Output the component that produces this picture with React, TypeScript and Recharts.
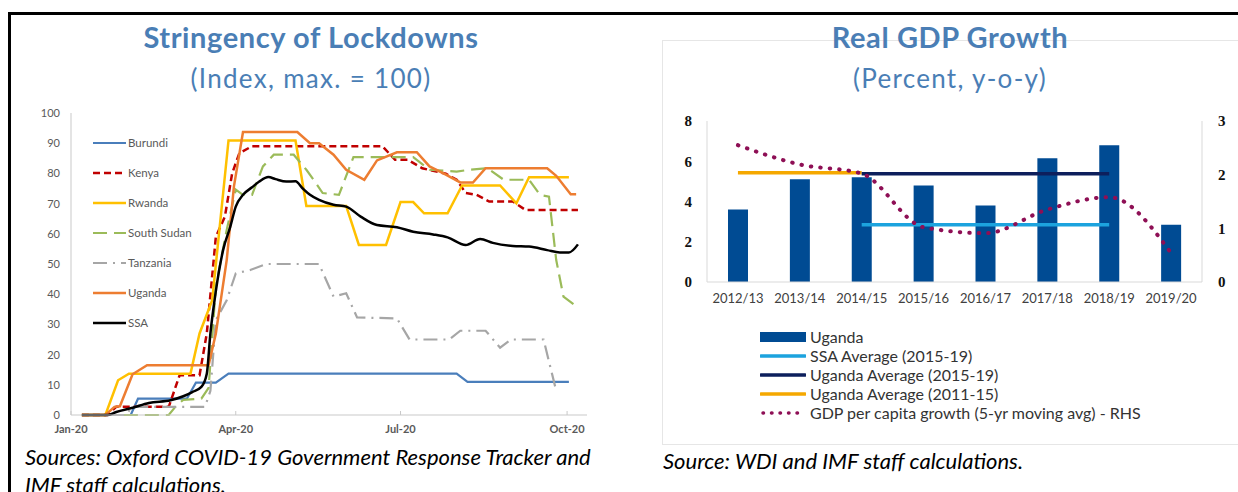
import { LineChart, Line, XAxis, YAxis, ComposedChart, Bar } from 'recharts'

type Pt = [number, number]

// ---------- Stringency of lockdowns: [day of 2020 (0 = 1 Jan), index] ----------
const burundi: Pt[] = [[6, 0], [33, 0], [37, 5.4], [64, 5.4], [69, 10.7], [80, 10.7], [87, 13.7], [213, 13.7], [219, 11], [275, 11]]
const kenya: Pt[] = [[6, 0], [20, 0], [25, 2.7], [54, 2.7], [60, 13.2], [71, 13.2], [75, 27], [80, 59], [85, 65.7], [89, 80], [93, 86.7], [100, 89], [172, 89], [179, 84.5], [186, 84.5], [194, 81.7], [207, 79.9], [213, 77.9], [218, 73.5], [224, 72.9], [231, 70.7], [244, 70.7], [251, 67.9], [280, 67.9]]
const rwanda: Pt[] = [[6, 0], [19, 0], [26, 11.5], [32, 13.7], [66, 13.7], [71, 27], [78, 38], [87, 90.9], [124, 90.9], [130, 69.2], [152, 69.2], [159, 56.3], [174, 56.3], [182, 70.5], [189, 70.5], [195, 66.8], [208, 66.8], [216, 76], [237, 76], [246, 70.1], [253, 78.7], [275, 78.7]]
const southSudan: Pt[] = [[6, 0], [54, 0], [58, 3], [62, 5], [72, 5.4], [76, 9], [80, 42.5], [86, 61.3], [91, 74.6], [95, 72.9], [100, 72.9], [106, 82.3], [112, 86.2], [123, 86.2], [130, 81.2], [134, 77.9], [139, 73.5], [148, 72.9], [156, 85.4], [189, 85.4], [198, 81.2], [213, 80.6], [220, 81.2], [230, 81.7], [239, 77.9], [253, 77.9], [259, 72.9], [264, 72.3], [268, 51.3], [272, 39.2], [280, 35.6]]
const tanzania: Pt[] = [[6, 0], [30, 0], [34, 2.7], [74, 2.7], [77, 8], [80, 31.4], [86, 38], [91, 46.9], [99, 48], [108, 50], [137, 50], [145, 39.2], [152, 40.3], [158, 32.3], [180, 32], [187, 25], [209, 25], [215, 27.9], [229, 27.9], [237, 22.3], [243, 25], [261, 25], [268, 8]]
const uganda: Pt[] = [[6, 0], [19, 0], [24, 2.7], [27, 2.9], [34, 13.5], [42, 16.5], [76, 16.5], [80, 27], [86, 51.3], [90, 75.7], [95, 93.7], [125, 93.7], [132, 90], [137, 90], [145, 86.2], [152, 81.2], [162, 77.9], [169, 84.3], [180, 87], [191, 87], [198, 82.3], [206, 79.9], [215, 77], [222, 77], [229, 81.7], [263, 81.7], [268, 79.2], [276, 73.1], [279, 73.1]]
const ssa: Pt[] = [[6, 0], [20, 0], [25, 1], [34, 2.4], [43, 4], [55, 4.9], [62, 6.2], [67, 7.6], [72, 9.3], [75, 13.7], [77, 27], [80, 41], [84, 54.6], [88, 62.4], [91, 69], [95, 72.9], [100, 75.4], [104, 77.3], [109, 78.8], [113, 78.1], [119, 77.3], [124, 77.4], [128, 75], [132, 72.9], [137, 71.2], [145, 69.6], [152, 69], [160, 65.7], [169, 62.9], [180, 62.2], [189, 60.7], [200, 59.8], [208, 58.8], [218, 56.3], [226, 58.3], [233, 57], [244, 56], [253, 55.8], [263, 54.6], [270, 53.8], [275, 53.8], [280, 56.5]]

const monthTickDays = [0, 91, 182, 274]
const monthTickLabels = ['Jan-20', 'Apr-20', 'Jul-20', 'Oct-20']
const indexTicks = [0, 10, 20, 30, 40, 50, 60, 70, 80, 90, 100]

// ---------- Real GDP growth ----------
const fiscalYears = ['2012/13', '2013/14', '2014/15', '2015/16', '2016/17', '2017/18', '2018/19', '2019/20']
const ugandaGrowth = [3.6, 5.1, 5.2, 4.8, 3.8, 6.15, 6.8, 2.85]
const ssaAvg1519 = [null, null, 2.85, 2.85, 2.85, 2.85, 2.85, null]
const ugandaAvg1519 = [null, null, 5.38, 5.38, 5.38, 5.38, 5.38, null]
const ugandaAvg1115 = [5.43, 5.43, 5.43, null, null, null, null, null]
const perCapitaGrowth = [2.55, 2.19, 2.02, 1.02, 0.91, 1.35, 1.58, 0.54]

const stringencySeries = [
  { name: 'Burundi', pts: burundi, color: '#4A7EBB', width: 2.2, dash: undefined as string | undefined },
  { name: 'Kenya', pts: kenya, color: '#C00000', width: 2.5, dash: '7 4' },
  { name: 'Rwanda', pts: rwanda, color: '#FFC000', width: 2.5, dash: undefined },
  { name: 'South Sudan', pts: southSudan, color: '#9BBB59', width: 2.2, dash: '14 7' },
  { name: 'Tanzania', pts: tanzania, color: '#A6A6A6', width: 2.2, dash: '14 6 2 6' },
  { name: 'Uganda', pts: uganda, color: '#ED7D31', width: 2.5, dash: undefined },
  { name: 'SSA', pts: ssa, color: '#000000', width: 2.5, dash: undefined },
]

const gdpData = fiscalYears.map((year, i) => ({
  year,
  uganda: ugandaGrowth[i],
  ssaAvg: ssaAvg1519[i],
  ugAvg: ugandaAvg1519[i],
  ugAvgOld: ugandaAvg1115[i],
  perCapita: perCapitaGrowth[i],
}))

const TITLE_BLUE = '#4A7EB5'
const AXIS_GREY = '#c9c9c9'

const StringencyChart = () => (
  <LineChart width={620} height={445} margin={{ top: 113, right: 33, bottom: 0, left: 0 }}>
    <XAxis xAxisId="top" orientation="top" type="number" domain={[0, 285]} height={0}
      tick={false} tickLine={false} axisLine={{ stroke: AXIS_GREY }} />
    <XAxis dataKey="d" type="number" domain={[0, 285]} allowDataOverflow ticks={monthTickDays} interval={0}
      tickFormatter={(d: number) => monthTickLabels[monthTickDays.indexOf(d)] ?? ''}
      height={30} tickSize={-4} tickMargin={14}
      tickLine={{ stroke: AXIS_GREY }} axisLine={{ stroke: AXIS_GREY }}
      tick={{ fontSize: 11, fontWeight: 700, fill: '#595959', fontFamily: 'Lato' }} />
    <YAxis domain={[0, 100]} ticks={indexTicks} interval={0} width={71} tickLine={false} tickSize={4} tickMargin={7}
      axisLine={{ stroke: AXIS_GREY }} tick={{ fontSize: 11, fill: '#595959', fontFamily: 'Lato' }} />
    <YAxis yAxisId="r" orientation="right" domain={[0, 100]} width={0} tick={false} tickLine={false}
      axisLine={{ stroke: AXIS_GREY }} />
    {stringencySeries.map(s => (
      <Line key={s.name} name={s.name} data={s.pts.map(([d, v]) => ({ d, v }))} dataKey="v"
        type={s.name === 'SSA' ? 'monotone' : 'linear'} stroke={s.color} strokeWidth={s.width}
        strokeDasharray={s.dash} dot={false} isAnimationActive={false} />
    ))}
  </LineChart>
)

const StringencyLegend = () => (
  <div style={{ position: 'absolute', left: 93, top: 128 }}>
    {stringencySeries.map(s => (
      <div key={s.name} style={{ display: 'flex', alignItems: 'center', height: 30 }}>
        <svg width={33} height={16} style={{ display: 'block' }}>
          <line x1={0} x2={33} y1={8} y2={8} stroke={s.color} strokeWidth={s.width} strokeDasharray={s.dash} />
        </svg>
        <span style={{ marginLeft: 2, fontFamily: 'Lato', fontSize: 11.5, color: '#595959', lineHeight: '16px' }}>{s.name}</span>
      </div>
    ))}
  </div>
)

const GdpChart = () => (
  <ComposedChart width={618} height={320} data={gdpData} margin={{ top: 121, right: 0, bottom: 0, left: 47 }}>
    <XAxis xAxisId="top" orientation="top" dataKey="year" height={0} tick={false} tickLine={false}
      axisLine={{ stroke: '#d9d9d9' }} />
    <XAxis dataKey="year" height={38} interval={0} tickLine={false} tickSize={6} tickMargin={6}
      axisLine={{ stroke: '#d9d9d9' }} tick={{ fontSize: 13, fill: '#404040', fontFamily: 'Lato' }} />
    <YAxis yAxisId="left" domain={[0, 8]} ticks={[0, 2, 4, 6, 8]} width={40} tickLine={false} tickSize={6} tickMargin={9}
      axisLine={{ stroke: '#d9d9d9' }}
      tick={{ fontSize: 15, fontWeight: 700, fill: '#111', fontFamily: 'Liberation Serif' }} />
    <YAxis yAxisId="right" orientation="right" domain={[0, 3]} ticks={[0, 1, 2, 3]} width={36} tickLine={false}
      tickSize={6} tickMargin={10} axisLine={{ stroke: '#d9d9d9' }}
      tick={{ fontSize: 15, fontWeight: 700, fill: '#111', fontFamily: 'Liberation Serif' }} />
    <Bar yAxisId="left" dataKey="uganda" name="Uganda" fill="#004B93" barSize={20} isAnimationActive={false} />
    <Line yAxisId="left" dataKey="ugAvgOld" name="Uganda Average (2011-15)" stroke="#F5A800" strokeWidth={3.5}
      dot={false} isAnimationActive={false} />
    <Line yAxisId="left" dataKey="ugAvg" name="Uganda Average (2015-19)" stroke="#0D1F5C" strokeWidth={3.5}
      dot={false} isAnimationActive={false} />
    <Line yAxisId="left" dataKey="ssaAvg" name="SSA Average (2015-19)" stroke="#1CA3DE" strokeWidth={3.5}
      dot={false} isAnimationActive={false} />
    <Line yAxisId="right" dataKey="perCapita" name="GDP per capita growth (5-yr moving avg) - RHS" type="monotone"
      stroke="#8E0F55" strokeWidth={4} strokeDasharray="0.5 9" strokeLinecap="round"
      dot={false} isAnimationActive={false} />
  </ComposedChart>
)

const gdpLegendItems = [
  { label: 'Uganda', color: '#004B93', kind: 'bar' },
  { label: 'SSA Average (2015-19)', color: '#1CA3DE', kind: 'line' },
  { label: 'Uganda Average (2015-19)', color: '#0D1F5C', kind: 'line' },
  { label: 'Uganda Average (2011-15)', color: '#F5A800', kind: 'line' },
  { label: 'GDP per capita growth (5-yr moving avg) - RHS', color: '#8E0F55', kind: 'dots' },
]

const GdpLegend = () => (
  <div style={{ position: 'absolute', left: 760, top: 327 }}>
    {gdpLegendItems.map(it => (
      <div key={it.label} style={{ display: 'flex', alignItems: 'center', height: 19 }}>
        <svg width={46} height={12} style={{ display: 'block' }}>
          {it.kind === 'bar' && <rect x={0} y={1} width={46} height={10} fill={it.color} />}
          {it.kind === 'line' && <line x1={1} x2={45} y1={6} y2={6} stroke={it.color} strokeWidth={3.5} strokeLinecap="round" />}
          {it.kind === 'dots' && <line x1={3} x2={44} y1={6} y2={6} stroke={it.color} strokeWidth={3.5}
            strokeDasharray="0.5 8" strokeLinecap="round" />}
        </svg>
        <span style={{ marginLeft: 4, fontFamily: 'Lato', fontSize: 16, color: '#333', lineHeight: '19px' }}>{it.label}</span>
      </div>
    ))}
  </div>
)

const titleStyle = { position: 'absolute' as const, top: 19, textAlign: 'center' as const, fontFamily: 'Lato', fontWeight: 700, fontSize: 29, letterSpacing: 0.6, lineHeight: '36px', color: TITLE_BLUE }
const subtitleStyle = { position: 'absolute' as const, top: 62, textAlign: 'center' as const, fontFamily: 'Lato', fontSize: 26, letterSpacing: 1.3, lineHeight: '32px', color: TITLE_BLUE }
const sourceStyle = { position: 'absolute' as const, fontFamily: 'Lato', fontStyle: 'italic' as const, fontSize: 22, lineHeight: '28px', color: '#000', whiteSpace: 'nowrap' as const }

export default function App() {
  return (
    <div style={{ position: 'absolute', left: 0, top: 0, width: 1238, height: 492, overflow: 'hidden', background: '#fff' }}>
      {/* frame */}
      <div style={{ position: 'absolute', left: 8, top: 12, width: 1230, height: 3, background: '#000' }} />
      <div style={{ position: 'absolute', left: 8, top: 12, width: 3, height: 480, background: '#000' }} />
      <div style={{ position: 'absolute', left: 662, top: 40, width: 575, height: 403, border: '1px solid #e6e6e6', borderRight: 'none' }} />

      {/* left panel */}
      <div style={{ position: 'absolute', left: 0, top: 0 }}><StringencyChart /></div>
      <StringencyLegend />
      <div style={{ ...titleStyle, left: 0, width: 622 }}>Stringency of Lockdowns</div>
      <div style={{ ...subtitleStyle, left: 0, width: 622 }}>(Index, max. = 100)</div>
      <div style={{ ...sourceStyle, left: 25, top: 443 }}>
        Sources: Oxford COVID-19 Government Response Tracker and<br />IMF staff calculations.
      </div>

      {/* right panel */}
      <div style={{ position: 'absolute', left: 620, top: 0 }}><GdpChart /></div>
      <GdpLegend />
      <div style={{ ...titleStyle, left: 640, width: 620 }}>Real GDP Growth</div>
      <div style={{ ...subtitleStyle, left: 640, width: 620 }}>(Percent, y-o-y)</div>
      <div style={{ ...sourceStyle, left: 663, top: 447 }}>Source: WDI and IMF staff calculations.</div>
    </div>
  )
}
